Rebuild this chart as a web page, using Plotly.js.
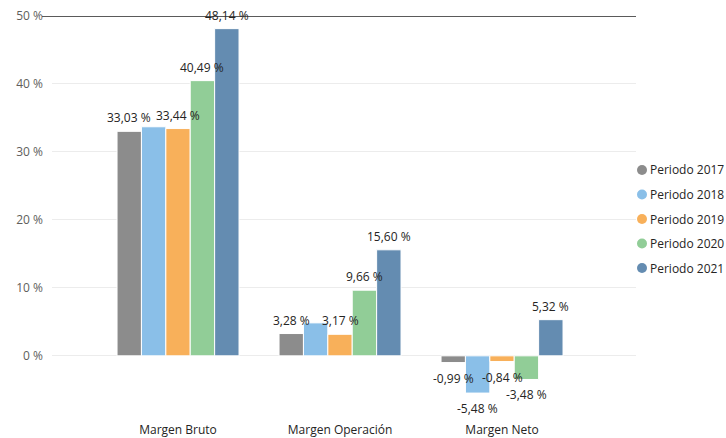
<!DOCTYPE html>
<html>
<head>
<meta charset="utf-8">
<script src="https://cdn.plot.ly/plotly-3.0.1.min.js"></script>
<style>html,body{margin:0;padding:0;background:#fff;}#chart{width:726px;height:438px;}</style>
</head>
<body>
<div id="chart"></div>
<script>
// ---- data ----
const categories = ["Margen Bruto", "Margen Operación", "Margen Neto"];
const seriesNames = ["Periodo 2017", "Periodo 2018", "Periodo 2019", "Periodo 2020", "Periodo 2021"];
const p2017 = [33.03, 3.28, -0.99];
const p2018 = [33.70, 4.85, -5.48];
const p2019 = [33.44, 3.17, -0.84];
const p2020 = [40.49, 9.66, -3.48];
const p2021 = [48.14, 15.60, 5.32];
// which data labels are visible in the reference (2018 labels hidden where they collide)
const show2017 = [true, true, true];
const show2018 = [false, false, true];
const show2019 = [true, true, true];
const show2020 = [true, true, true];
const show2021 = [true, true, true];
const yTickVals = [0, 10, 20, 30, 40, 50];

const colors = ["#8c8c8c", "#8abfe8", "#f8b05a", "#91cd97", "#648cb1"];
const allValues = [p2017, p2018, p2019, p2020, p2021];
const allShow = [show2017, show2018, show2019, show2020, show2021];

function fmt(v) { return v.toFixed(2).replace('.', ',') + ' %'; }

const BARGAP = 0.247;
const nSeries = allValues.length;

const traces = allValues.map((vals, i) => ({
  type: 'bar',
  name: seriesNames[i],
  x: categories,
  y: vals,
  marker: { color: colors[i], line: { color: '#ffffff', width: 1 } },
  hoverinfo: 'skip',
  showlegend: false
}));

// data labels as annotations (drawn above all bars), positioned at each bar's category slot
const barSlot = (1 - BARGAP) / nSeries;
const labelAnns = [];
allValues.forEach((vals, i) => {
  vals.forEach((v, j) => {
    if (!allShow[i][j]) return;
    const pos = v >= 0;
    labelAnns.push({
      xref: 'x', yref: 'y',
      x: j + (i - (nSeries - 1) / 2) * barSlot, y: v,
      xanchor: 'center', yanchor: pos ? 'bottom' : 'top',
      yshift: pos ? 3 : -5,
      showarrow: false, text: fmt(v),
      font: { family: 'Open Sans, sans-serif', size: 12, color: '#252423' }
    });
  });
});

// plot geometry helpers (for legend placement in paper coords)
const W = 726, H = 438, ML = 52, MR = 90, MT = 16, MB = 21;
const pw = W - ML - MR, ph = H - MT - MB;
const px2paperX = px => (px - ML) / pw;
const px2paperY = py => (H - MB - py) / ph;

const legendShapes = seriesNames.map((n, i) => ({
  type: 'circle', xref: 'paper', yref: 'paper',
  xsizemode: 'pixel', ysizemode: 'pixel',
  xanchor: px2paperX(642), yanchor: px2paperY(170 + i * 24.5),
  x0: -5, x1: 5, y0: -5, y1: 5,
  fillcolor: colors[i], line: { width: 0 }
}));
const legendAnn = seriesNames.map((n, i) => ({
  xref: 'paper', yref: 'paper',
  x: px2paperX(648), y: px2paperY(170 + i * 24.5),
  xanchor: 'left', yanchor: 'middle', showarrow: false,
  text: n, font: { family: 'Open Sans, sans-serif', size: 12, color: '#252423' }
}));

const topLine = {
  type: 'line', xref: 'paper', yref: 'y',
  x0: px2paperX(42), x1: 1, y0: 50, y1: 50,
  line: { color: '#5a5a5a', width: 2 }
};

const layout = {
  width: W, height: H,
  margin: { l: ML, r: MR, t: MT, b: MB, pad: 0 },
  paper_bgcolor: '#ffffff', plot_bgcolor: '#ffffff',
  barmode: 'group', bargap: BARGAP, bargroupgap: 0,
  showlegend: false,
  font: { family: 'Open Sans, sans-serif', size: 12, color: '#252423' },
  xaxis: {
    type: 'category', range: [-0.778, 2.827],
    showgrid: false, zeroline: false, showline: false, ticks: '',
    tickfont: { family: 'Open Sans, sans-serif', size: 12, color: '#252423' },
    ticklabelstandoff: 4
  },
  yaxis: {
    range: [-9, 50], tickvals: yTickVals, ticktext: yTickVals.map(v => v + ' %'),
    showgrid: true, gridcolor: '#ececec', gridwidth: 1,
    zeroline: false, showline: false, ticks: '',
    tickfont: { family: 'Open Sans, sans-serif', size: 12, color: '#605e5c' },
    ticklabelstandoff: 8
  },
  shapes: [topLine].concat(legendShapes),
  annotations: labelAnns.concat(legendAnn)
};

Plotly.newPlot('chart', traces, layout, { displayModeBar: false, staticPlot: true });
</script>
</body>
</html>
